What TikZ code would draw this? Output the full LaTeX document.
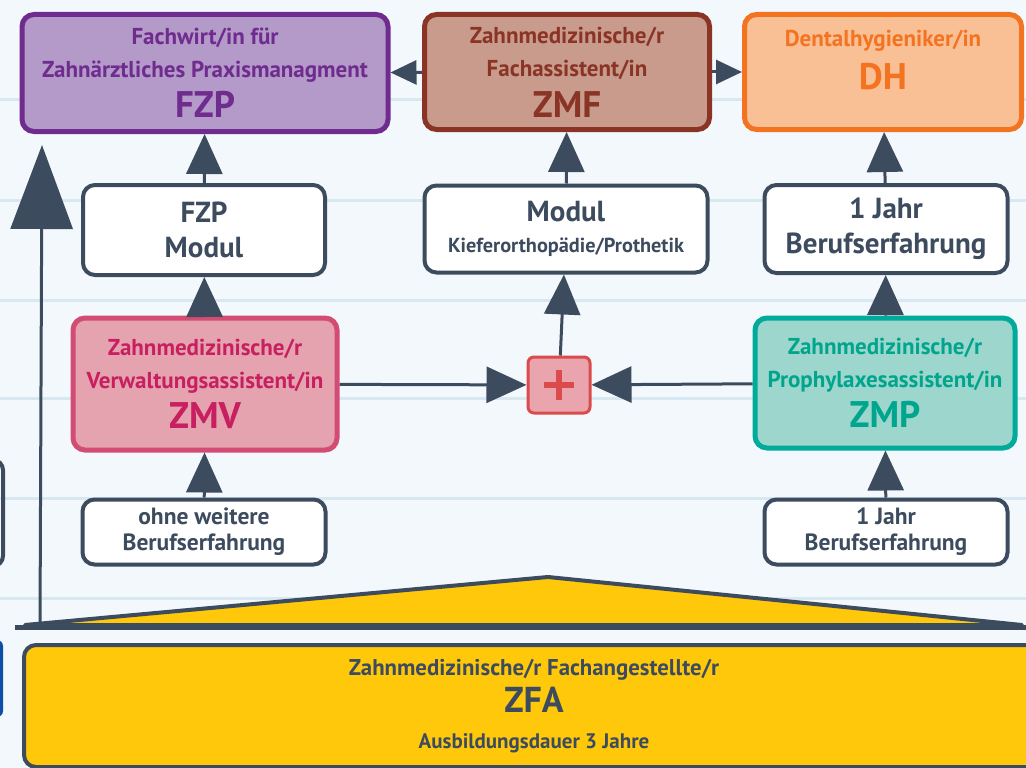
\documentclass[tikz,border=0pt]{standalone}
\usepackage{fontspec}
\setmainfont{PT Sans}
\usetikzlibrary{arrows.meta}

\definecolor{paper}{HTML}{F2F8FC}
\definecolor{paperline}{HTML}{D8E8F0}
\definecolor{ink}{HTML}{3D4B5F}
\definecolor{fzpfill}{HTML}{B39AC8}
\definecolor{fzpline}{HTML}{6F2B8E}
\definecolor{zmffill}{HTML}{C99B8D}
\definecolor{zmfline}{HTML}{8A3426}
\definecolor{dhfill}{HTML}{F9C096}
\definecolor{dhline}{HTML}{F47321}
\definecolor{zmvfill}{HTML}{E5A3AF}
\definecolor{zmvline}{HTML}{D24C74}
\definecolor{zmvtext}{HTML}{C71F5F}
\definecolor{zmpfill}{HTML}{9DD6CC}
\definecolor{zmpline}{HTML}{00AB9B}
\definecolor{zmptext}{HTML}{00A58D}
\definecolor{plusfill}{HTML}{E9A4AE}
\definecolor{plusred}{HTML}{DB4B4B}
\definecolor{zfafill}{HTML}{FFC80A}
\definecolor{leftblue}{HTML}{0D4EA6}

\newcommand\boxtxt{\fontsize{23}{33}\selectfont\bfseries}
\newcommand\lowtxt{\fontsize{23.5}{26}\selectfont\bfseries}
\newcommand\modtxt{\fontsize{29}{35}\selectfont\bfseries}
\newcommand\tagtxt{\fontsize{37}{40}\selectfont\bfseries}

\tikzset{
  box/.style={draw=ink, fill=white, text=ink, line width=4pt, rounded corners=12pt, align=center, inner sep=0pt},
  colbox/.style 2 args={box, fill=#1, draw=#2, text=#2, line width=5pt},
  up/.style={draw=ink, line width=3pt, -{Triangle[length=40pt,width=36pt]}},
  side/.style={draw=ink, line width=3pt, -{Triangle[length=26pt,width=24pt]}},
}

\begin{document}
\begin{tikzpicture}[x=1pt,y=-1pt]
\useasboundingbox (0,0) rectangle (1026,768);
\fill[paper] (0,0) rectangle (1026,768);
\foreach \y in {100,200,300,398,498,598}
  \draw[paperline, line width=3pt] (0,\y) -- (1026,\y);

\draw[ink, line width=4pt, rounded corners=10pt] (-100,460) rectangle (3,566);
\fill[leftblue, rounded corners=6pt] (-100,640) rectangle (3,717);

\node[colbox={fzpfill}{fzpline}, minimum width=366pt, minimum height=117pt, font=\boxtxt] (fzp) at (205,73)
  {Fachwirt/in für\\Zahnärztliches Praxismanagment\\[7pt]{\tagtxt FZP}};
\node[colbox={zmffill}{zmfline}, minimum width=285pt, minimum height=115pt, font=\boxtxt] (zmf) at (567,72)
  {Zahnmedizinische/r\\Fachassistent/in\\[8pt]{\tagtxt ZMF}};
\node[colbox={dhfill}{dhline}, minimum width=277pt, minimum height=115pt, font=\boxtxt, text depth=24pt] (dh) at (883,72)
  {Dentalhygieniker/in\\[10pt]{\tagtxt DH}};

\node[box, minimum width=242pt, minimum height=90pt, font=\modtxt] (fzpmod) at (204,230) {FZP\\Modul};
\node[box, minimum width=283pt, minimum height=87pt, font=\modtxt] (kfo) at (566,229)
  {Modul\\[-4pt]{\fontsize{20.3}{24}\selectfont Kieferorthopädie/Prothetik}};
\node[box, minimum width=243pt, minimum height=88pt, font=\modtxt] (jahrdh) at (886,229) {1 Jahr\\Berufserfahrung};

\node[colbox={zmvfill}{zmvline}, text=zmvtext, minimum width=264pt, minimum height=132pt, font=\boxtxt] (zmv) at (205,384)
  {Zahnmedizinische/r\\Verwaltungsassistent/in\\[7pt]{\tagtxt ZMV}};
\node[colbox={zmpfill}{zmpline}, text=zmptext, minimum width=260pt, minimum height=130pt, font=\boxtxt] (zmp) at (885,383)
  {Zahnmedizinische/r\\Prophylaxesassistent/in\\[7pt]{\tagtxt ZMP}};
\node[box, fill=plusfill, draw=plusred, line width=3pt, rounded corners=6pt, minimum width=62pt, minimum height=56pt] (plus) at (559,385) {};
\draw[plusred, line width=6pt] ([yshift=-15pt]plus.center) -- ([yshift=15pt]plus.center)
  ([xshift=-15pt]plus.center) -- ([xshift=15pt]plus.center);

\node[box, minimum width=243pt, minimum height=65pt, font=\lowtxt] (ohne) at (204,532) {ohne weitere\\Berufserfahrung};
\node[box, minimum width=243pt, minimum height=65pt, font=\lowtxt] (jahrzmp) at (886,532) {1 Jahr\\Berufserfahrung};

\filldraw[fill=zfafill, draw=ink, line width=4pt, line join=round] (25,625) -- (548,577) -- (1022,625) -- cycle;
\draw[ink, line width=5pt] (15,627) -- (1026,627);
\node[box, fill=zfafill, minimum width=1020pt, minimum height=122pt, anchor=west, font=\fontsize{22.8}{33}\selectfont\bfseries] (zfa) at (22,706)
  {Zahnmedizinische/r Fachangestellte/r\\[4pt]{\fontsize{36}{38}\selectfont ZFA}\\[3pt]{\fontsize{21}{24}\selectfont Ausbildungsdauer 3 Jahre}};
\coordinate (roof) at (40,627);
\coordinate (top) at (42,145);
\draw[draw=ink, line width=3pt, -{Triangle[length=84pt,width=62pt]}] (roof) -- (top);

\draw[up] (fzpmod) -- (fzp);
\draw[up] (zmv) -- (fzpmod);
\draw[up] (ohne) -- (zmv);
\draw[up] (kfo) -- (zmf);
\draw[up] (plus) -- (kfo);
\draw[up] (jahrdh) -- (dh);
\draw[up] (zmp) -- (jahrdh);
\draw[up] (jahrzmp) -- (zmp);
\draw[up] (zmv) -- (plus);
\draw[up] (zmp) -- (plus);
\draw[side] (zmf) -- (fzp);
\draw[side] (zmf) -- (dh);
\end{tikzpicture}
\end{document}
